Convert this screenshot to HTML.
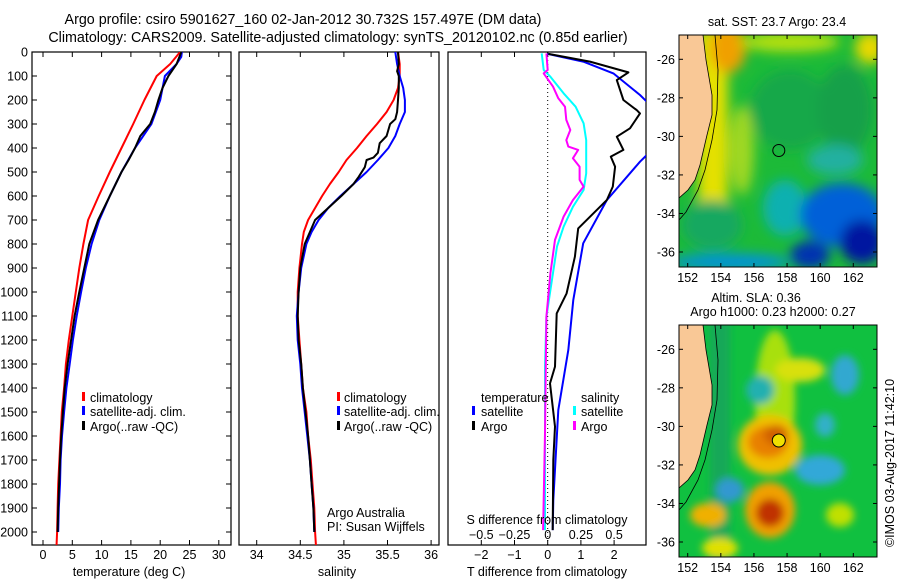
<!DOCTYPE html>
<html><head><meta charset="utf-8">
<style>
html,body{margin:0;padding:0;background:#fff;}
svg{display:block;font-family:"Liberation Sans",sans-serif;}
text{font-size:12.5px;fill:#000;}
.t{font-size:14.3px;}
</style></head>
<body>
<svg id="chart" width="900" height="580" viewBox="0 0 900 580" xmlns="http://www.w3.org/2000/svg">
<defs>
 <filter id="blur1" x="-50%" y="-50%" width="200%" height="200%"><feGaussianBlur stdDeviation="6"/></filter>
 <filter id="blur2" x="-50%" y="-50%" width="200%" height="200%"><feGaussianBlur stdDeviation="4"/></filter>
 <clipPath id="cp1"><rect x="32" y="52" width="199" height="493"/></clipPath>
 <clipPath id="cp2"><rect x="239" y="52" width="200" height="493"/></clipPath>
 <clipPath id="cp3"><rect x="448" y="52" width="198" height="493"/></clipPath>
 <clipPath id="cm1"><rect x="679" y="35" width="198" height="232"/></clipPath>
 <clipPath id="cm2"><rect x="679" y="325" width="198" height="232"/></clipPath>
</defs>
<text class="t" x="303" y="24" text-anchor="middle">Argo profile: csiro 5901627_160 02-Jan-2012 30.732S 157.497E (DM data)</text>
<text class="t" x="338" y="42" text-anchor="middle">Climatology: CARS2009. Satellite-adjusted climatology: synTS_20120102.nc (0.85d earlier)</text>

<g>
 <rect x="32" y="52" width="199" height="493" fill="none" stroke="#000" stroke-width="1.2"/>
 <g id="p1ticks"></g>
 <g id="p1lines" clip-path="url(#cp1)"></g>
 <rect x="82" y="392" width="3" height="9" fill="#f00"/>
 <text x="90" y="402">climatology</text>
 <rect x="82" y="406" width="3" height="9" fill="#00f"/>
 <text x="90" y="416">satellite-adj. clim.</text>
 <rect x="82" y="421" width="3" height="9" fill="#000"/>
 <text x="90" y="431">Argo(..raw -QC)</text>
 <text x="129" y="576" text-anchor="middle">temperature (deg C)</text>
</g>

<g>
 <rect x="239" y="52" width="200" height="493" fill="none" stroke="#000" stroke-width="1.2"/>
 <g id="p2ticks"></g>
 <g id="p2lines" clip-path="url(#cp2)"></g>
 <rect x="337" y="392" width="3" height="9" fill="#f00"/>
 <text x="344" y="402">climatology</text>
 <rect x="337" y="406" width="3" height="9" fill="#00f"/>
 <text x="344" y="416">satellite-adj. clim.</text>
 <rect x="337" y="421" width="3" height="9" fill="#000"/>
 <text x="344" y="431">Argo(..raw -QC)</text>
 <text x="327" y="517">Argo Australia</text>
 <text x="327" y="531">PI: Susan Wijffels</text>
 <text x="337" y="576" text-anchor="middle">salinity</text>
</g>

<g>
 <rect x="448" y="52" width="198" height="493" fill="none" stroke="#000" stroke-width="1.2"/>
 <line x1="547.7" y1="52" x2="547.7" y2="545" stroke="#000" stroke-width="1" stroke-dasharray="1,3"/>
 <g id="p3ticks"></g>
 <g id="p3lines" clip-path="url(#cp3)"></g>
 <text x="481" y="402">temperature</text>
 <rect x="472" y="406" width="3" height="9" fill="#00f"/>
 <text x="481" y="416">satellite</text>
 <rect x="472" y="421" width="3" height="9" fill="#000"/>
 <text x="481" y="431">Argo</text>
 <text x="581" y="402">salinity</text>
 <rect x="573" y="406" width="3" height="9" fill="#0ff"/>
 <text x="581" y="416">satellite</text>
 <rect x="573" y="421" width="3" height="9" fill="#f0f"/>
 <text x="581" y="431">Argo</text>
 <text x="547" y="524" text-anchor="middle">S difference from climatology</text>
 <text x="547" y="576" text-anchor="middle">T difference from climatology</text>
</g>

<!-- SST map -->
<g>
 <text x="777" y="26" text-anchor="middle">sat. SST: 23.7 Argo: 23.4</text>
 <g clip-path="url(#cm1)">
  <rect x="679" y="35" width="198" height="232" fill="#1cba38"/>
  <g filter="url(#blur1)">
   <rect x="698" y="30" width="30" height="180" fill="#e4e000"/>
   <ellipse cx="728" cy="48" rx="18" ry="25" fill="#f0a000"/>
   <ellipse cx="790" cy="42" rx="50" ry="10" fill="#b6e010"/>
   <ellipse cx="870" cy="48" rx="15" ry="16" fill="#e8d800"/>
   <ellipse cx="742" cy="150" rx="12" ry="45" fill="#a0d820"/>
   <ellipse cx="790" cy="110" rx="40" ry="40" fill="#14a848"/>
   <ellipse cx="845" cy="110" rx="28" ry="45" fill="#12a04a"/>
   <ellipse cx="835" cy="160" rx="28" ry="15" fill="#20b0a0"/>
   <ellipse cx="785" cy="208" rx="22" ry="28" fill="#10b0b0"/>
   <ellipse cx="842" cy="215" rx="42" ry="32" fill="#0060d8"/>
   <ellipse cx="862" cy="242" rx="22" ry="22" fill="#0018a0"/>
   <ellipse cx="810" cy="255" rx="20" ry="14" fill="#0030b0"/>
   <ellipse cx="730" cy="262" rx="60" ry="8" fill="#0090e0"/>
   <ellipse cx="712" cy="225" rx="30" ry="25" fill="#18a860"/>
  </g>
  <polygon points="679,35 703,35 706,60 712,95 712,115 707,135 700,165 695,180 688,190 679,198" fill="#f9c896" stroke="#000" stroke-width="0.8"/>
  <polyline points="715,35 718,70 717,110 712,140 705,170 698,190 686,212 679,220" fill="none" stroke="#000" stroke-width="0.8"/>
  <circle cx="778.8" cy="150.5" r="6" fill="none" stroke="#000" stroke-width="1"/>
 </g>
 <rect x="679" y="35" width="198" height="232" fill="none" stroke="#000" stroke-width="1"/>
 <g id="m1ticks"></g>
</g>

<!-- SLA map -->
<g>
 <text x="756" y="302" text-anchor="middle">Altim. SLA: 0.36</text>
 <text x="773" y="316" text-anchor="middle">Argo h1000: 0.23 h2000: 0.27</text>
 <g clip-path="url(#cm2)">
  <rect x="679" y="325" width="198" height="232" fill="#10c040"/>
  <g filter="url(#blur2)">
   <rect x="710" y="320" width="20" height="240" fill="#18a858"/>
   <ellipse cx="775" cy="400" rx="20" ry="70" fill="#a8e010"/>
   <ellipse cx="800" cy="370" rx="25" ry="12" fill="#d8e010"/>
   <ellipse cx="760" cy="390" rx="14" ry="14" fill="#20b0b0"/>
   <ellipse cx="845" cy="375" rx="14" ry="20" fill="#30a8d0"/>
   <ellipse cx="825" cy="425" rx="10" ry="12" fill="#30b0c8"/>
   <ellipse cx="820" cy="470" rx="25" ry="15" fill="#30a8d8"/>
   <ellipse cx="730" cy="490" rx="14" ry="12" fill="#3098d0"/>
   <ellipse cx="770" cy="445" rx="32" ry="30" fill="#f0c000"/>
   <ellipse cx="768" cy="442" rx="20" ry="16" fill="#e88000"/>
   <ellipse cx="776" cy="435" rx="12" ry="10" fill="#d06000"/>
   <ellipse cx="770" cy="510" rx="25" ry="28" fill="#f0a000"/>
   <ellipse cx="770" cy="513" rx="14" ry="14" fill="#c03000"/>
   <ellipse cx="708" cy="515" rx="18" ry="12" fill="#f0b000"/>
   <ellipse cx="840" cy="515" rx="14" ry="12" fill="#c0e000"/>
   <ellipse cx="720" cy="548" rx="18" ry="10" fill="#e0e000"/>
  </g>
  <polygon points="679,325 703,325 706,350 712,385 712,405 707,425 700,455 695,470 688,480 679,488" fill="#f9c896" stroke="#000" stroke-width="0.8"/>
  <polyline points="715,325 718,360 717,400 712,430 705,460 698,480 686,502 679,510" fill="none" stroke="#000" stroke-width="0.8"/>
  <circle cx="778.8" cy="440.5" r="6.5" fill="#f0e000" stroke="#000" stroke-width="1"/>
 </g>
 <rect x="679" y="325" width="198" height="232" fill="none" stroke="#000" stroke-width="1"/>
 <g id="m2ticks"></g>
 <text transform="translate(894,463) rotate(-90)" text-anchor="middle">©IMOS 03-Aug-2017 11:42:10</text>
</g>
</svg>
<script>
// ---- data ----
const tDepthRed = [0,50,100,200,300,400,500,600,700,800,900,1000,1100,1200,1300,1400,1500,1600,1700,1800,1900,2000,2060];
const tempClim  = [23.4,21.7,19.4,17.3,15.4,13.4,11.4,9.5,7.7,6.9,6.2,5.6,5.0,4.4,3.9,3.6,3.2,3.0,2.8,2.6,2.5,2.4,2.3];
const tDepthBlue = [0,20,50,100,200,300,400,500,600,700,800,900,1000,1100,1200,1300,1400,1500,1600,1700,1800,1900,2000];
const tempSat   = [23.7,23.6,22.8,20.8,20.0,18.5,15.7,13.4,11.4,9.6,8.3,7.3,6.5,5.75,5.1,4.55,4.0,3.6,3.25,3.0,2.9,2.7,2.6];
const tDepthArgo = [0,50,100,150,200,250,300,350,400,450,500,600,700,800,900,1000,1100,1200,1300,1400,1500,1600,1700,1800,1900,2000];
const tempArgo  = [23.6,22.8,21.4,20.4,19.7,19.1,18.3,16.6,15.7,14.6,13.4,11.4,9.4,7.9,7.05,6.2,5.4,4.8,4.2,3.7,3.4,3.1,2.9,2.75,2.6,2.5];

const sDepthRed = [0,50,100,150,200,250,300,350,400,450,500,550,600,650,700,750,800,900,1000,1100,1200,1300,1400,1500,1600,1700,1800,1900,2000,2060];
const salClim   = [35.62,35.64,35.64,35.62,35.57,35.49,35.38,35.26,35.15,35.03,34.94,34.84,34.75,34.67,34.59,34.54,34.52,34.49,34.47,34.47,34.49,34.51,34.53,34.57,34.59,34.62,34.64,34.66,34.67,34.68];
const sDepthBlue = [0,50,100,150,200,250,300,350,400,450,500,550,600,650,700,750,800,900,1000,1100,1200,1300,1400,1500,1600,1700,1800,1900,2000];
const salSat    = [35.59,35.61,35.64,35.68,35.70,35.70,35.64,35.59,35.51,35.39,35.26,35.11,34.96,34.82,34.71,34.63,34.57,34.51,34.48,34.46,34.47,34.50,34.52,34.55,34.58,34.61,34.63,34.65,34.66];
const sDepthArgo = [0,50,80,100,150,200,250,280,300,350,380,420,440,450,480,520,550,600,650,700,750,800,900,1000,1100,1200,1300,1400,1500,1600,1700,1800,1900,2000];
const salArgo   = [35.62,35.63,35.61,35.63,35.63,35.62,35.61,35.59,35.53,35.49,35.41,35.39,35.34,35.26,35.24,35.17,35.11,34.97,34.82,34.67,34.61,34.55,34.50,34.48,34.47,34.48,34.51,34.53,34.56,34.59,34.61,34.63,34.65,34.66];

const dDepthTArgo = [8,40,85,117,200,242,256,318,353,408,436,478,561,617,735,853,1006,1089,1311,1381,1561,1700,1992];
const dTempArgo   = [0.02,1.27,2.43,2.08,2.28,2.68,2.78,2.48,2.08,2.28,1.90,2.03,1.96,1.78,0.92,0.82,0.57,0.27,0.22,0.07,0.22,0.17,0.15];
const dDepthTSat  = [8,40,89,179,250,320,400,457,617,797,1033,1242,1492,1867,1992];
const dTempSat    = [0,1.07,1.98,2.78,3.3,3.5,3.2,2.78,1.78,1.07,0.77,0.62,0.32,0.17,0.15];
const dDepthSSat  = [6,75,103,172,228,297,367,506,575,645,728,811,992,1103,1311,1992];
const dSalSat     = [-0.045,-0.03,0.02,0.12,0.21,0.27,0.29,0.29,0.27,0.19,0.12,0.07,0.02,-0.01,-0.02,-0.02];
const dDepthSArgo = [6,75,89,144,193,228,283,325,367,394,408,443,478,533,561,617,686,783,922,1103,1589,1992];
const dSalArgo    = [-0.01,0,-0.03,0.04,0.08,0.13,0.14,0.17,0.14,0.155,0.23,0.19,0.24,0.24,0.27,0.19,0.12,0.055,0.02,-0.01,-0.02,-0.035];

const depthTicks = [0,100,200,300,400,500,600,700,800,900,1000,1100,1200,1300,1400,1500,1600,1700,1800,1900,2000];
const tempTicks = [0,5,10,15,20,25,30];
const salTicks = [34,34.5,35,35.5,36];
const salTickLabels = ["34","34.5","35","35.5","36"];
const tdTicks = [-2,-1,0,1,2];
const sdTicks = [-0.5,-0.25,0,0.25,0.5];
const sdTickLabels = ["\u22120.5","\u22120.25","0","0.25","0.5"];
const tdTickLabels = ["\u22122","\u22121","0","1","2"];
const lonTicks = [152,154,156,158,160,162];
const latTicks = [-26,-28,-30,-32,-34,-36];
const latTickLabels = ["-26","-28","-30","-32","-34","-36"];

// ---- scales ----
const NS = "http://www.w3.org/2000/svg";
const yD = d => 52 + d * 0.24;
const xT = t => 43 + t * 5.86;
const xS = s => 256.7 + (s - 34) * 87.2;
const xDT = v => 547.7 + v * 33.2;
const xDS = v => 547.7 + v * 132.8;
const xLon = l => 687.7 + (l - 152) * 16.56;
const yLat1 = l => 59.3 + (-26 - l) * 19.27;
const yLat2 = l => 349.3 + (-26 - l) * 19.27;

function mk(tag, attrs, parent) {
  const e = document.createElementNS(NS, tag);
  for (const k in attrs) e.setAttribute(k, attrs[k]);
  parent.appendChild(e);
  return e;
}
function line(parent, xs, ds, xf, color, w, name) {
  const pts = xs.map((v, i) => xf(v).toFixed(1) + "," + yD(ds[i]).toFixed(1)).join(" ");
  const p = mk("polyline", {points: pts, fill: "none", stroke: color, "stroke-width": w, "stroke-linejoin": "round"}, parent);
  
  
}
function txt(parent, x, y, s, anchor, name) {
  const t = mk("text", {x: x, y: y, "text-anchor": anchor}, parent);
  t.textContent = s;
  
  
}
function tick(parent, x1, y1, x2, y2) {
  const l = mk("line", {x1: x1, y1: y1, x2: x2, y2: y2, stroke: "#000", "stroke-width": 1}, parent);
  
  
}

// panel 1
const p1t = document.getElementById("p1ticks");
depthTicks.forEach(d => {
  tick(p1t, 32, yD(d), 37, yD(d));
  tick(p1t, 231, yD(d), 226, yD(d));
  txt(p1t, 28, yD(d) + 4.5, String(d), "end", "y-tick-label-depth");
});
tempTicks.forEach(t => {
  tick(p1t, xT(t), 545, xT(t), 540);
  tick(p1t, xT(t), 52, xT(t), 57);
  txt(p1t, xT(t), 559, String(t), "middle", "x-tick-label-temperature");
});
const p1l = document.getElementById("p1lines");
line(p1l, tempClim, tDepthRed, xT, "#f00", 2, "temperature-climatology-line");
line(p1l, tempSat, tDepthBlue, xT, "#00f", 2, "temperature-satellite-line");
line(p1l, tempArgo, tDepthArgo, xT, "#000", 2, "temperature-argo-line");

// panel 2
const p2t = document.getElementById("p2ticks");
salTicks.forEach((s, i) => {
  tick(p2t, xS(s), 545, xS(s), 540);
  tick(p2t, xS(s), 52, xS(s), 57);
  txt(p2t, xS(s), 559, salTickLabels[i], "middle", "x-tick-label-salinity");
});
const p2l = document.getElementById("p2lines");
line(p2l, salClim, sDepthRed, xS, "#f00", 2, "salinity-climatology-line");
line(p2l, salSat, sDepthBlue, xS, "#00f", 2, "salinity-satellite-line");
line(p2l, salArgo, sDepthArgo, xS, "#000", 2, "salinity-argo-line");

// panel 3
const p3t = document.getElementById("p3ticks");
tdTicks.forEach((v, i) => {
  tick(p3t, xDT(v), 52, xDT(v), 57);
  tick(p3t, xDT(v), 545, xDT(v), 540);
  txt(p3t, xDT(v), 559, tdTickLabels[i], "middle", "x-tick-label-t-difference");
});
sdTicks.forEach((v, i) => {
  txt(p3t, xDS(v), 539, sdTickLabels[i], "middle", "x-tick-label-s-difference");
});
const p3l = document.getElementById("p3lines");
line(p3l, dSalSat, dDepthSSat, xDS, "#0ff", 2, "s-difference-satellite-line");
line(p3l, dSalArgo, dDepthSArgo, xDS, "#f0f", 2, "s-difference-argo-line");
line(p3l, dTempSat, dDepthTSat, xDT, "#00f", 2, "t-difference-satellite-line");
line(p3l, dTempArgo, dDepthTArgo, xDT, "#000", 2, "t-difference-argo-line");

// map ticks
[["m1ticks", yLat1, 35, 267], ["m2ticks", yLat2, 325, 557]].forEach(([id, yl, top, bot]) => {
  const g = document.getElementById(id);
  lonTicks.forEach(l => {
    tick(g, xLon(l), top, xLon(l), top + 4);
    tick(g, xLon(l), bot, xLon(l), bot - 4);
    txt(g, xLon(l), bot + 15, String(l), "middle", "map-lon-tick-label");
  });
  latTicks.forEach((l, i) => {
    tick(g, 679, yl(l), 683, yl(l));
    tick(g, 877, yl(l), 873, yl(l));
    txt(g, 675, yl(l) + 4.5, latTickLabels[i], "end", "map-lat-tick-label");
  });
});
</script>
</body></html>
